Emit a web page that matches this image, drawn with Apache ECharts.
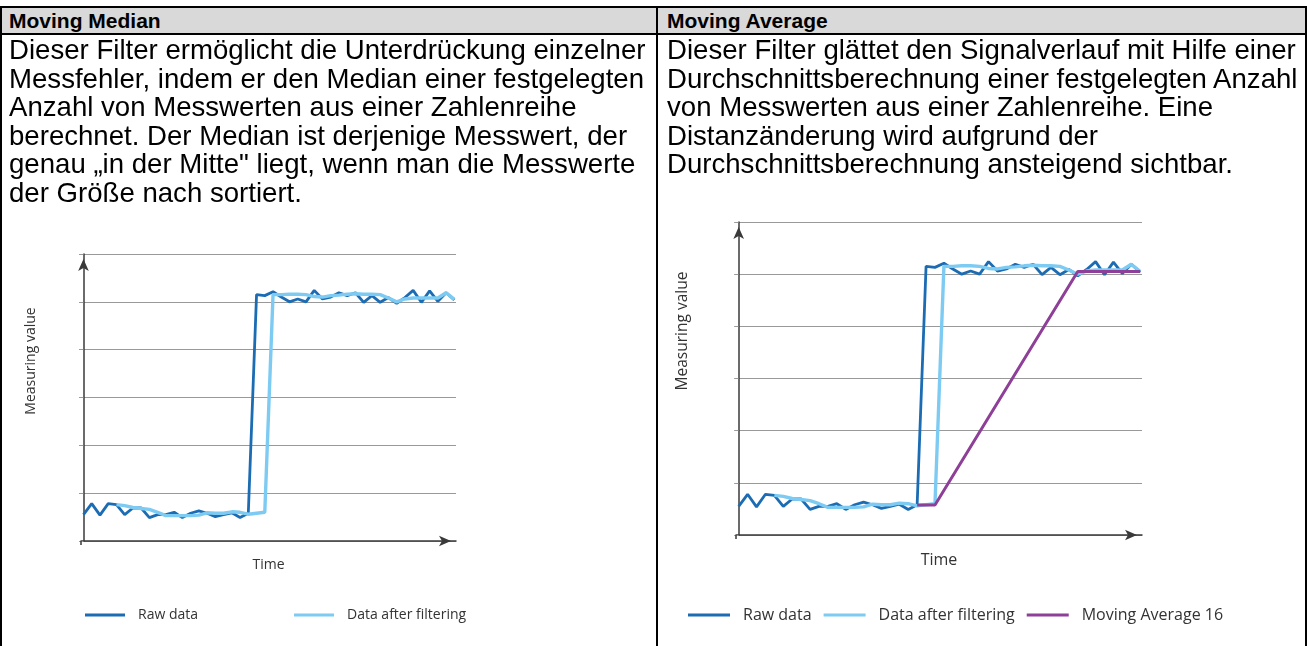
<!DOCTYPE html>
<html>
<head>
<meta charset="utf-8">
<title>Moving Median / Moving Average</title>
<script src="https://cdn.jsdelivr.net/npm/echarts@6/dist/echarts.min.js"></script>
<style>
  html, body { margin: 0; padding: 0; background: #fff; }
  #page { position: relative; width: 1307px; height: 646px; overflow: hidden;
          font-family: "Liberation Sans", Arial, sans-serif; color: #000; }
  #chart { position: absolute; left: 0; top: 0; width: 1307px; height: 646px; }
  .hline { position: absolute; left: 0; width: 1307px; height: 2px; background: #000; }
  .vline { position: absolute; top: 6px; bottom: 0; width: 2px; background: #000; }
  .head { position: absolute; top: 8px; height: 25px; background: #d9d9d9;
          font-weight: bold; font-size: 21px; line-height: 26px; padding-left: 9px; box-sizing: border-box; }
  .txt { position: absolute; top: 36px; font-size: 27.6px; line-height: 28.5px; white-space: nowrap; }
</style>
</head>
<body>
<div id="page">
  <div id="chart"></div>
  <div class="head" style="left:0;width:657px;">Moving Median</div>
  <div class="head" style="left:658px;width:649px;">Moving Average</div>
  <div class="hline" style="top:6px;"></div>
  <div class="hline" style="top:33px;"></div>
  <div class="vline" style="left:0;"></div>
  <div class="vline" style="left:656px;"></div>
  <div class="vline" style="left:1305px;"></div>
  <div class="txt" style="left:9px;">
    Dieser Filter ermöglicht die Unterdrückung einzelner<br>
    Messfehler, indem er den Median einer festgelegten<br>
    Anzahl von Messwerten aus einer Zahlenreihe<br>
    berechnet. Der Median ist derjenige Messwert, der<br>
    genau „in der Mitte" liegt, wenn man die Messwerte<br>
    der Größe nach sortiert.
  </div>
  <div class="txt" style="left:667px;">
    Dieser Filter glättet den Signalverlauf mit Hilfe einer<br>
    Durchschnittsberechnung einer festgelegten Anzahl<br>
    von Messwerten aus einer Zahlenreihe. Eine<br>
    Distanzänderung wird aufgrund der<br>
    Durchschnittsberechnung ansteigend sichtbar.
  </div>
</div>

<script>
  // samples 0..45, measuring value in grid units (0..6)
  var rawData = [
    0.55, 0.78, 0.54, 0.78, 0.76, 0.55, 0.69, 0.69, 0.49, 0.55, 0.55,
    0.60, 0.49, 0.58, 0.63, 0.58, 0.51, 0.55, 0.59, 0.49, 0.58,
    5.15, 5.13, 5.21, 5.10, 5.00, 5.06, 5.00, 5.24, 5.06, 5.10,
    5.19, 5.13, 5.19, 4.99, 5.13, 4.99, 5.09, 4.97, 5.09, 5.24,
    4.99, 5.23, 5.01, 5.19, 5.04
  ];
  var filteredData = [
    null, null, null, null,
    0.76, 0.74, 0.70, 0.68, 0.66, 0.60, 0.53, 0.53, 0.53, 0.53,
    0.54, 0.59, 0.58, 0.58, 0.61, 0.60, 0.56, 0.58, 0.60,
    5.15, 5.15, 5.16, 5.16, 5.15, 5.11, 5.10, 5.13, 5.14, 5.16,
    5.17, 5.16, 5.16, 5.15, 5.08, 5.00, 5.06, 5.08, 5.08, 5.08,
    5.08, 5.19, 5.05
  ];
  // only the corner points of the moving average line
  var movingAvg16 = [
    null, null, null, null, null, null, null, null, null, null,
    null, null, null, null, null, null, null, null, null, null,
    0.575, null, 0.575, null, null, null, null, null, null, null,
    null, null, null, null, null, null, null, null, 5.05, null,
    null, null, null, null, null, 5.05
  ];
  var seriesNames = ['Raw data', 'Data after filtering', 'Moving Average 16'];
  var axisNames = ['Time', 'Measuring value'];

  var colRaw = '#1b6cb3';
  var colFilt = '#7dcbf2';
  var colAvg = '#8e3f97';
  var chartFont = '"Open Sans", "Noto Sans", sans-serif';

  function pairs(arr) {
    var out = [];
    arr.forEach(function (v, i) { if (v !== null) out.push([i, v]); });
    return out;
  }

  function xAx(idx, fs, gap) {
    return {
      gridIndex: idx, type: 'value', min: -0.3, max: 45.2,
      name: axisNames[0], nameLocation: 'middle', nameGap: gap,
      nameTextStyle: { fontFamily: chartFont, fontSize: fs, color: '#333' },
      axisLine: { lineStyle: { color: '#3a3a3a', width: 1.5 }, symbol: ['none', 'arrow'], symbolSize: [8, 12], symbolOffset: [0, -5] },
      axisTick: { show: true, customValues: [-0.3], length: 4, lineStyle: { color: '#3a3a3a', width: 1.5 } },
      axisLabel: { show: false },
      splitLine: { show: false }
    };
  }
  function yAx(idx) {
    return {
      gridIndex: idx, type: 'value', min: 0, max: 6, interval: 1,
      axisLine: { show: true, lineStyle: { color: '#3a3a3a', width: 1.5 }, symbol: ['none', 'arrow'], symbolSize: [8, 12], symbolOffset: [0, -5] },
      axisTick: { show: true, length: 4.5, lineStyle: { color: '#999' } },
      axisLabel: { show: false },
      splitLine: { show: true, lineStyle: { color: '#999', width: 1 } }
    };
  }
  function line(name, idx, data, color, w) {
    return {
      name: name, type: 'line', xAxisIndex: idx, yAxisIndex: idx,
      data: pairs(data), symbol: 'none', silent: true,
      lineStyle: { color: color, width: w }, itemStyle: { color: color }
    };
  }

  var myChart = echarts.init(document.getElementById('chart'), null, { renderer: 'canvas' });
  myChart.setOption({
    animation: false,
    grid: [
      { left: 81, width: 375, top: 254, height: 287 },
      { left: 736, width: 406, top: 222, height: 313 }
    ],
    xAxis: [xAx(0, 14, 17), xAx(1, 16, 17)],
    yAxis: [yAx(0), yAx(1)],
    legend: [
      {
        data: seriesNames.slice(0, 2), left: 85, top: 608, padding: 0, icon: 'rect',
        itemWidth: 40, itemHeight: 3, itemGap: 96,
        textStyle: { fontFamily: chartFont, fontSize: 14, color: '#333', padding: [0, 0, 0, 8] }
      },
      {
        data: seriesNames, left: 688, top: 607, padding: 0, icon: 'rect',
        itemWidth: 42, itemHeight: 3, itemGap: 12,
        textStyle: { fontFamily: chartFont, fontSize: 16, color: '#333', padding: [0, 0, 0, 8] }
      }
    ],
    graphic: [
      { type: 'text', x: 31, y: 361, rotation: Math.PI / 2,
        style: { text: axisNames[1], font: '14px ' + chartFont, fill: '#333', align: 'center', verticalAlign: 'middle' } },
      { type: 'text', x: 683, y: 331, rotation: Math.PI / 2,
        style: { text: axisNames[1], font: '15.5px ' + chartFont, fill: '#333', align: 'center', verticalAlign: 'middle' } }
    ],
    series: [
      line(seriesNames[0], 0, rawData, colRaw, 2.8),
      line(seriesNames[1], 0, filteredData, colFilt, 3.4),
      line(seriesNames[0], 1, rawData, colRaw, 2.8),
      line(seriesNames[1], 1, filteredData, colFilt, 3.4),
      line(seriesNames[2], 1, movingAvg16, colAvg, 3)
    ]
  });
</script>
</body>
</html>
